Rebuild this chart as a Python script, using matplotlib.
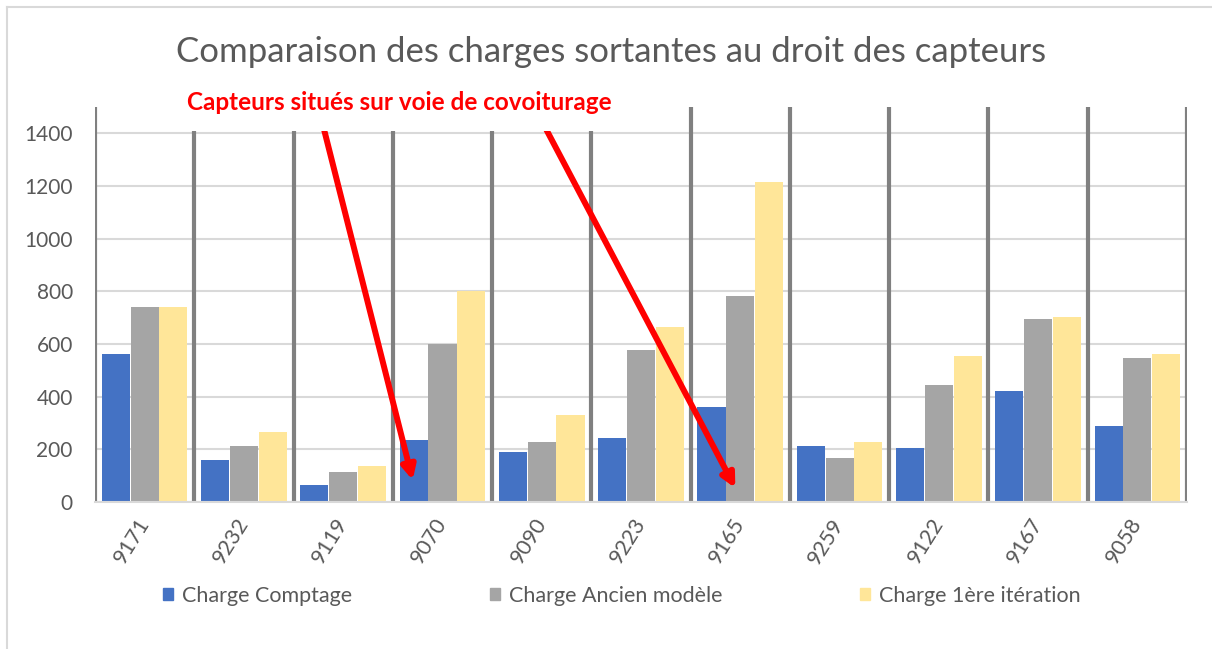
import matplotlib
matplotlib.use("Agg")
import matplotlib.pyplot as plt
from matplotlib.patches import Rectangle
from matplotlib.lines import Line2D
import numpy as np

plt.rcParams['font.family'] = ['Lato', 'DejaVu Sans']

# Data
capteurs = ["9171", "9232", "9119", "9070", "9090", "9223", "9165", "9259", "9122", "9167", "9058"]
charge_comptage = [561, 160, 65, 236, 190, 243, 362, 214, 206, 421, 288]
charge_ancien = [740, 214, 113, 600, 227, 576, 784, 169, 443, 695, 546]
charge_iter1 = [740, 266, 136, 800, 332, 665, 1214, 227, 553, 703, 561]
series_names = ["Charge Comptage", "Charge Ancien modèle", "Charge 1ère itération"]
colors = ["#4472C4", "#A5A5A5", "#FFE699"]

text_gray = "#595959"

fig = plt.figure(figsize=(12.12, 6.49), dpi=100)
ax = fig.add_axes([0.0784, 0.2265, 0.901, 0.6086])

x = np.arange(len(capteurs))
w = 0.283
ax.bar(x - 0.29, charge_comptage, w, color=colors[0], zorder=3)
ax.bar(x, charge_ancien, w, color=colors[1], zorder=3)
ax.bar(x + 0.29, charge_iter1, w, color=colors[2], zorder=3)

ax.set_xlim(-0.5, len(capteurs) - 0.5)
ax.set_ylim(0, 1500)
ax.set_yticks(range(0, 1401, 200))
ax.yaxis.grid(True, color="#D9D9D9", lw=1.5, zorder=0)
ax.set_axisbelow(True)

# dark separators between categories
ax.vlines(np.arange(-0.5, len(capteurs)), 0, 1500, color="#808080", lw=3, zorder=2)

for s in ["top", "right", "left"]:
    ax.spines[s].set_visible(False)
ax.spines["bottom"].set_color("#D9D9D9")
ax.spines["bottom"].set_linewidth(1.5)
ax.spines["bottom"].set_zorder(4)

ax.set_xticks(x)
ax.set_xticklabels(capteurs, rotation=58, ha="right", va="center", rotation_mode="anchor")
ax.tick_params(axis="x", length=0, pad=13, labelsize=15.5, labelcolor=text_gray)
ax.tick_params(axis="y", length=0, pad=16, labelsize=15, labelcolor=text_gray)

# title
fig.text(0.5045, 1 - 52 / 649, "Comparaison des charges sortantes au droit des capteurs",
         ha="center", va="center", fontsize=25, color=text_gray)

# annotation arrows
ax.annotate("", xy=(2.70, 83), xytext=(1.79, 1440),
            arrowprops=dict(arrowstyle="-|>", color="red", lw=4.3, mutation_scale=20,
                            shrinkA=0, shrinkB=0), annotation_clip=False, zorder=5)
ax.annotate("", xy=(5.95, 53), xytext=(4.01, 1440),
            arrowprops=dict(arrowstyle="-|>", color="red", lw=4.3, mutation_scale=20,
                            shrinkA=0, shrinkB=0), annotation_clip=False, zorder=5)

# white text box covering arrow tails
fig.add_artist(Rectangle((150 / 1212, 1 - 131 / 649), 490 / 1212, 46 / 649,
                         transform=fig.transFigure, facecolor="white", edgecolor="none", zorder=5))
fig.text(0.3296, 1 - 103 / 649, "Capteurs situés sur voie de covoiturage",
         ha="center", va="center", fontsize=17.5, fontweight="bold", color="red", zorder=6)

# legend
handles = [Rectangle((0, 0), 1, 1, color=c) for c in colors]
fig.legend(handles, series_names, loc="center", bbox_to_anchor=(0.513, 1 - 596 / 649),
           ncol=3, frameon=False, fontsize=15.5, labelcolor=text_gray,
           handlelength=0.48, handleheight=0.48, handletextpad=0.4, columnspacing=6.4)

# chart border
fig.add_artist(Line2D([7 / 1212, 1], [1 - 7 / 649, 1 - 7 / 649], transform=fig.transFigure,
                      color="#D9D9D9", lw=1.5))
fig.add_artist(Line2D([7 / 1212, 7 / 1212], [0, 1 - 7 / 649], transform=fig.transFigure,
                      color="#D9D9D9", lw=1.5))

fig.savefig("out.png", dpi=100)
